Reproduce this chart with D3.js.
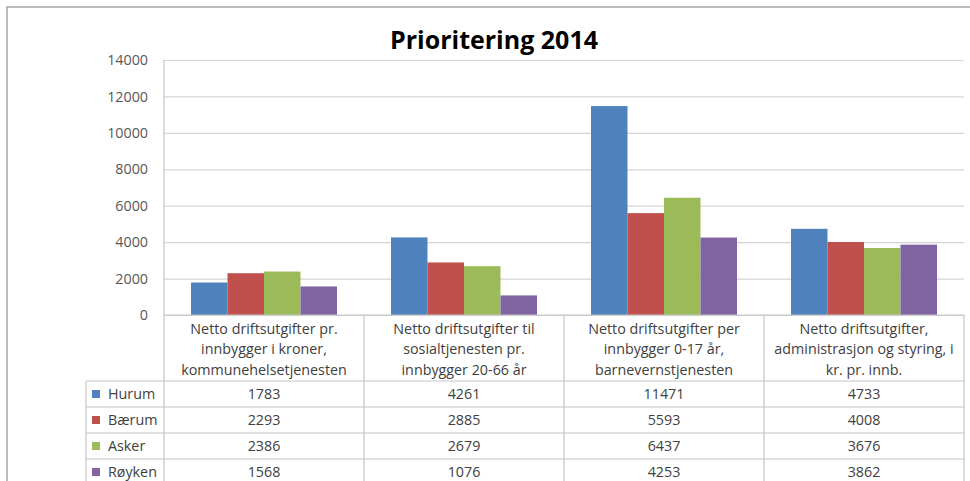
<!DOCTYPE html>
<html>
<head>
<meta charset="utf-8">
<script src="https://cdn.jsdelivr.net/npm/d3@7"></script>
<style>
  body { margin: 0; background: #fff; }
  svg { display: block; }
</style>
</head>
<body>
<svg class="mainsvg" width="970" height="481"></svg>
<script>
// data
var categories = [
	["Netto driftsutgifter pr.", "innbygger i kroner,", "kommunehelsetjenesten"],
	["Netto driftsutgifter til", "sosialtjenesten pr.", "innbygger 20-66 år"],
	["Netto driftsutgifter per", "innbygger 0-17 år,", "barnevernstjenesten"],
	["Netto driftsutgifter,", "administrasjon og styring, i", "kr. pr. innb."]
];
var seriesNames = ["Hurum", "Bærum", "Asker", "Røyken"];
var hurum  = [1783, 4261, 11471, 4733];
var baerum = [2293, 2885, 5593, 4008];
var asker  = [2386, 2679, 6437, 3676];
var royken = [1568, 1076, 4253, 3862];
var yTicks = [0, 2000, 4000, 6000, 8000, 10000, 12000, 14000];
var colors = ["#4F81BD", "#C0504D", "#9BBB59", "#8064A2"];

var seriesValues = [hurum, baerum, asker, royken];
var font = "'Open Sans', sans-serif";
var fs = '14.3px';

var svg = d3.select('.mainsvg');

// outer chart frame
svg.append('rect')
	.attr('x', 7)
	.attr('y', 7)
	.attr('width', 990)
	.attr('height', 500)
	.attr('fill', '#fff')
	.attr('stroke', '#a6a6a6')
	.attr('stroke-width', 1.5);

var plotLeft = 164, plotRight = 964, plotTop = 60, plotBottom = 315;
var rowTop = 381, rowH = 26, legendLeft = 86;

var x0 = d3.scaleBand()
	.domain(d3.range(categories.length))
	.range([plotLeft, plotRight]);

var x1 = d3.scaleBand()
	.domain(d3.range(seriesNames.length))
	.range([0, x0.bandwidth()])
	.paddingOuter(0.74);

var y = d3.scaleLinear()
	.domain([0, 14000])
	.range([plotBottom, plotTop]);

// gridlines + y labels
var yAxis = d3.axisLeft(y)
	.tickValues(yTicks)
	.tickSize(-(plotRight - plotLeft))
	.tickPadding(16)
	.tickFormat(d3.format('d'));

var gy = svg.append('g')
	.attr('transform', 'translate(' + plotLeft + ',0)')
	.call(yAxis);
gy.select('.domain').remove();
gy.selectAll('.tick line')
	.attr('stroke', '#d4d4d4')
	.attr('stroke-width', 1.2);
gy.selectAll('.tick text')
	.attr('fill', '#595959')
	.attr('font-family', font)
	.attr('font-size', fs);

// bars
var groups = svg.selectAll('.cat')
	.data(categories)
	.enter()
	.append('g')
	.attr('transform', function (d, i) { return 'translate(' + x0(i) + ',0)'; });

groups.selectAll('rect')
	.data(function (d, i) { return seriesValues.map(function (s) { return s[i]; }); })
	.enter()
	.append('rect')
	.attr('x', function (d, j) { return x1(j); })
	.attr('y', function (d) { return y(d); })
	.attr('width', x1.bandwidth())
	.attr('height', function (d) { return y(0) - y(d); })
	.attr('fill', function (d, j) { return colors[j]; });

// table lines
var lineColor = '#c4c4c4';
var tableBottom = rowTop + rowH * 5;

svg.append('line')
	.attr('x1', plotLeft).attr('x2', plotRight)
	.attr('y1', plotBottom).attr('y2', plotBottom)
	.attr('stroke', lineColor).attr('stroke-width', 1.2);

svg.append('line')
	.attr('x1', plotLeft).attr('x2', plotLeft)
	.attr('y1', plotTop).attr('y2', tableBottom)
	.attr('stroke', lineColor).attr('stroke-width', 1.2);

svg.selectAll('.vline')
	.data(d3.range(categories.length))
	.enter()
	.append('line')
	.attr('x1', function (i) { return x0(i) + x0.bandwidth(); })
	.attr('x2', function (i) { return x0(i) + x0.bandwidth(); })
	.attr('y1', plotBottom)
	.attr('y2', tableBottom)
	.attr('stroke', lineColor).attr('stroke-width', 1.2);

svg.append('line')
	.attr('x1', legendLeft).attr('x2', legendLeft)
	.attr('y1', rowTop).attr('y2', tableBottom)
	.attr('stroke', lineColor).attr('stroke-width', 1.2);

svg.selectAll('.hline')
	.data(d3.range(seriesNames.length + 1))
	.enter()
	.append('line')
	.attr('x1', legendLeft).attr('x2', plotRight)
	.attr('y1', function (r) { return rowTop + r * rowH; })
	.attr('y2', function (r) { return rowTop + r * rowH; })
	.attr('stroke', lineColor).attr('stroke-width', 1.2);

// category headers
groups.each(function (lines, i) {
	var t = d3.select(this).append('text')
		.attr('text-anchor', 'middle')
		.attr('fill', '#404040')
		.attr('font-family', font)
		.attr('font-size', fs);
	lines.forEach(function (ln, k) {
		t.append('tspan')
			.attr('x', x0.bandwidth() / 2)
			.attr('y', 333.5 + k * 20.5)
			.text(ln);
	});
});

// legend column
seriesNames.forEach(function (name, j) {
	var cy = rowTop + j * rowH + rowH / 2;
	svg.append('rect')
		.attr('x', 92)
		.attr('y', cy - 4)
		.attr('width', 8)
		.attr('height', 8)
		.attr('fill', colors[j]);
	svg.append('text')
		.attr('x', 108)
		.attr('y', cy + 5)
		.attr('fill', '#404040')
		.attr('font-family', font)
		.attr('font-size', fs)
		.text(name);
});

// values in table
seriesValues.forEach(function (vals, j) {
	var cy = rowTop + j * rowH + rowH / 2;
	svg.selectAll('.val' + j)
		.data(vals)
		.enter()
		.append('text')
		.attr('x', function (d, i) { return x0(i) + x0.bandwidth() / 2; })
		.attr('y', cy + 5)
		.attr('text-anchor', 'middle')
		.attr('fill', '#404040')
		.attr('font-family', font)
		.attr('font-size', fs)
		.text(function (d) { return d; });
});

// title
svg.append('text')
	.attr('x', 494)
	.attr('y', 49)
	.attr('text-anchor', 'middle')
	.attr('fill', '#000')
	.attr('font-family', font)
	.attr('font-weight', '700')
	.attr('font-size', '25px')
	.text('Prioritering 2014');
</script>
</body>
</html>
